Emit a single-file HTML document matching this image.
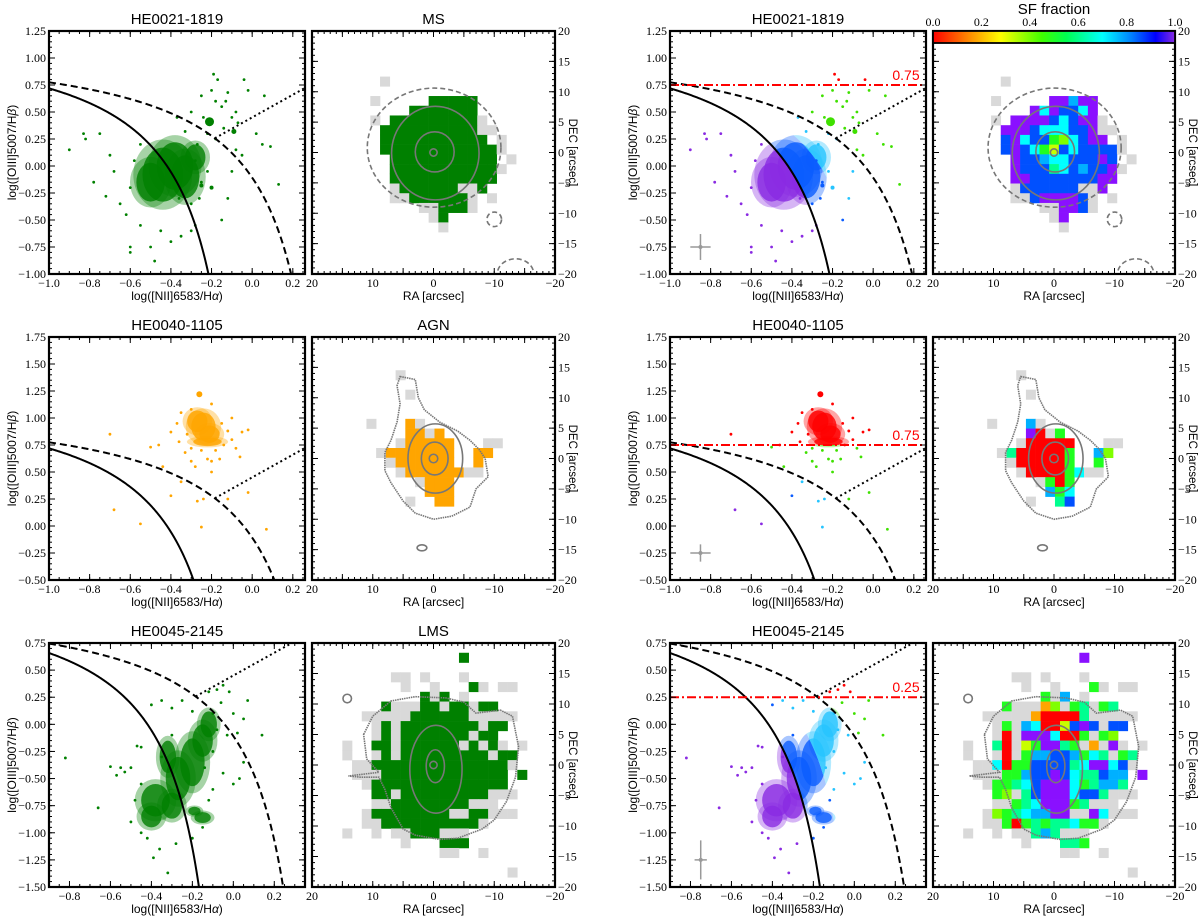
<!DOCTYPE html>
<html><head><meta charset="utf-8"><title>BPT diagrams and SF fraction maps</title>
<style>
html,body{margin:0;padding:0;background:#fff;overflow:hidden;}
svg{display:block;}
.tk{font-family:"Liberation Serif",serif;font-size:12px;fill:#000;}
.ttl{font-family:"Liberation Sans",sans-serif;font-size:15px;fill:#000;}
.lbl{font-family:"Liberation Sans",sans-serif;font-size:12px;fill:#000;}
.dl{font-family:"Liberation Sans",sans-serif;font-size:11.5px;fill:#000;}
</style></head>
<body>
<svg id="fig" width="1200" height="916" viewBox="0 0 1200 916" xmlns="http://www.w3.org/2000/svg">
<defs>
<linearGradient id="sfgrad" x1="0" y1="0" x2="1" y2="0">
<stop offset="0" stop-color="#ff0000"/><stop offset="0.15" stop-color="#ff8c00"/><stop offset="0.28" stop-color="#ffff00"/><stop offset="0.45" stop-color="#40ff00"/><stop offset="0.55" stop-color="#00ff50"/><stop offset="0.7" stop-color="#00ffff"/><stop offset="0.82" stop-color="#0080ff"/><stop offset="0.92" stop-color="#0000ff"/><stop offset="1" stop-color="#8a2be2"/>
</linearGradient>
</defs>
</svg>
<script>
// ---------------- data ----------------
const galaxyNames = ["HE0021-1819", "HE0040-1105", "HE0045-2145"];
const mapClasses = ["MS", "AGN", "LMS"];
const classColors = ["#008000", "#ffa500", "#008000"];
const sfThresholds = [0.75, 0.75, 0.25];
const bptXLim = [[-1, 0.26], [-1, 0.26], [-0.9, 0.35]];
const bptYLim = [[-1, 1.25], [-0.5, 1.75], [-1.5, 0.75]];
const bptXTicks = [[-1, -0.8, -0.6, -0.4, -0.2, 0, 0.2], [-1, -0.8, -0.6, -0.4, -0.2, 0, 0.2], [-0.8, -0.6, -0.4, -0.2, 0, 0.2]];
const bptYTicks = [[-1, -0.75, -0.5, -0.25, 0, 0.25, 0.5, 0.75, 1, 1.25], [-0.5, -0.25, 0, 0.25, 0.5, 0.75, 1, 1.25, 1.5, 1.75], [-1.5, -1.25, -1, -0.75, -0.5, -0.25, 0, 0.25, 0.5, 0.75]];
const mapXTicks = [20, 10, 0, -10, -20];
const mapYTicks = [20, 15, 10, 5, 0, -5, -10, -15, -20];
const cbarTicks = [0, 0.2, 0.4, 0.6, 0.8, 1.0];

const pointsA = [[-0.9,0.15],[-0.83,0.3],[-0.82,0.25],[-0.78,-0.15],[-0.75,0.3],[-0.72,-0.28],[-0.7,0.1],[-0.68,-0.05],[-0.65,-0.35],[-0.62,-0.45],[-0.6,-0.75],[-0.6,-0.8],[-0.55,-0.55],[-0.5,-0.75],[-0.48,-0.88],[-0.45,-0.6],[-0.4,-0.7],[-0.35,-0.65],[-0.3,-0.6],[-0.28,-0.55],[-0.25,-0.15],[-0.18,0.6],[-0.19,0.85],[-0.17,0.8],[-0.15,0.55],[-0.12,0.68],[-0.1,0.45],[-0.08,0.5],[-0.07,0.4],[-0.04,0.8],[-0.02,0.7],[0.02,0.3],[0.05,0.2],[0.06,0.65],[0.09,0.18],[0.13,-0.17],[-0.1,-0.05],[-0.05,0.1],[-0.12,-0.3],[-0.15,-0.5],[-0.33,0.32],[-0.37,0.45],[-0.3,0.5],[-0.25,0.65],[-0.36,-0.3],[-0.27,0.2],[-0.22,0.3],[-0.14,0.35],[-0.08,0.15],[-0.2,0.7],[-0.13,0.6],[-0.24,0.45],[-0.18,0.25],[-0.28,0.05],[-0.22,-0.05],[-0.58,0.05],[-0.6,-0.2],[-0.55,0.2],[-0.3,-0.35],[-0.26,-0.3]];
const bigA = [[-0.21,0.41,4.5],[-0.09,0.32,2.5],[-0.2,-0.2,2],[-0.25,-0.18,2]];
const blobsA = [[-0.44,-0.08,0.1,0.25],[-0.38,0.0,0.09,0.22],[-0.5,-0.15,0.07,0.18],[-0.33,-0.1,0.07,0.2],[-0.28,0.08,0.05,0.12]];

const pointsB = [[-0.7,0.85],[-0.68,0.15],[-0.55,0.02],[-0.5,0.73],[-0.46,0.75],[-0.44,0.55],[-0.4,0.87],[-0.4,0.28],[-0.35,0.41],[-0.27,0.23],[-0.25,-0.01],[-0.24,0.25],[-0.2,0.5],[-0.12,0.25],[-0.06,0.64],[-0.02,0.31],[0.07,-0.03],[-0.02,0.89],[-0.05,0.87],[-0.1,1.0],[-0.15,0.95],[-0.2,1.13],[-0.3,1.08],[-0.35,1.05],[-0.37,0.95],[-0.36,0.78],[-0.33,0.68],[-0.3,0.6],[-0.22,0.62],[-0.18,0.7],[-0.14,0.75],[-0.1,0.8],[-0.28,0.55],[-0.25,0.7],[-0.16,0.62],[-0.32,0.85],[-0.12,0.88],[-0.08,0.72],[-0.3,0.72],[-0.2,0.6]];
const bigB = [[-0.26,1.22,3]];
const blobsB = [[-0.24,0.92,0.06,0.13],[-0.27,0.97,0.05,0.1],[-0.21,0.85,0.05,0.08],[-0.22,0.78,0.07,0.04]];

const pointsC = [[-0.82,-0.31],[-0.66,-0.77],[-0.6,-0.39],[-0.57,-0.47],[-0.55,-0.4],[-0.53,-0.44],[-0.5,-0.4],[-0.47,-0.2],[-0.45,-0.21],[-0.4,0.18],[-0.35,0.22],[-0.3,0.15],[-0.25,0.22],[-0.2,0.12],[-0.12,0.3],[-0.08,0.32],[-0.05,0.36],[-0.02,0.3],[0.02,-0.08],[0.05,0.05],[0.07,0.22],[0.14,-0.1],[0.05,-0.35],[0.03,-0.5],[0,-0.55],[-0.05,-0.45],[-0.1,-0.6],[-0.32,-1.37],[-0.39,-1.23],[-0.45,-1.0],[-0.5,-0.9],[-0.36,-1.15],[-0.28,-1.1],[-0.2,-1.05],[-0.15,-0.95],[-0.12,-0.7],[-0.1,-0.25],[-0.03,-0.1],[0,0.1],[-0.14,-0.4],[-0.06,0.2],[-0.1,0.1],[-0.3,-0.1],[-0.35,-0.3],[-0.45,-0.55],[-0.48,-0.7],[-0.42,-1.05],[-0.08,-0.05]];
const bigC = [];
const blobsC = [[-0.38,-0.7,0.07,0.15],[-0.4,-0.85,0.05,0.1],[-0.27,-0.5,0.06,0.2],[-0.2,-0.35,0.06,0.22],[-0.15,-0.15,0.05,0.15],[-0.12,0.0,0.04,0.12],[-0.15,-0.86,0.04,0.05],[-0.19,-0.8,0.03,0.04],[-0.3,-0.75,0.05,0.12],[-0.32,-0.3,0.04,0.15]];

// error bars: x, y, dx, dy
const errBars = [[-0.85,-0.75,0.05,0.12],[-0.85,-0.25,0.05,0.08],[-0.75,-1.25,0.03,0.18]];

// spaxel grids (r o y l g t c a b p = SF fraction colour class, x = grey)
const gridA = [
".........................",
".........................",
".........................",
".........................",
".......x.................",
".........................",
"......x.....ppapp........",
"..........pcpbbcp........",
"......x.ppppbcbppx.......",
".......pppbcccbbpxx......",
".......bpcbbglcbpp.x.....",
".......bpbcgybcbbbbx.....",
"........pbbaccbbbpb.x....",
"........pbbbtcbabbpx.....",
"........ppbbbbbbbpp......",
"........xbbbbbbxxp.......",
"........xxbppppbx.x......",
"...........xxppbx........",
"............xp...........",
".............x..........."];
const gridB = [
".........................",
".........................",
".........................",
".........x...............",
".........................",
"..........x..............",
".........................",
".........................",
"......x...ax.............",
"..........prxg...........",
".........xrrrrr...xx.....",
".......xtrrrrrg..al......",
"........xrrrrrg..g.......",
".........xrrrrgcxx.......",
"...........xgrg..........",
"............agc..........",
"..........x..tb.........."];
const gridC = [
".........................",
"...............p.........",
".........................",
"........xx.x...x.........",
".........x..x...gx.xx....",
"...........gxa.x.........",
".......gxxxolxgtxgt......",
".....xxxxxorrrrtxxxxx....",
"......xgxacrrybpbxbb.....",
"......xrxpppcrrgxgl......",
"...x..trxygpptgxoxpx.x...",
"...x..xrxgaabbagctxgt....",
"....xxcrggbbbbtcppcbx....",
"....xxxggabbpbcttbaa.p...",
".....xggtcbpppcgtaat.....",
"......glxtbpppcbbtxxx....",
"......xxgtcpppgtxxx......",
".....xlgtcaappxxpcxxx....",
".....xxgrgtgttcggx.......",
"...x..x.xxtatxxx.........",
".........x...ttg.........",
".............xx..x.......",
".........................",
"....................x...."];

// contours (RA, DEC in arcsec)
const ellipsesA = [[-0.1,0.8,11,9.8,1],[-0.3,-0.1,7.2,7.7,0],[-0.2,0.1,3.2,3.3,0],[0,0,0.6,0.6,0],[-13.5,-20,3,2.5,1],[-10,-11,1.2,1.2,1]];
const outlineA = [];
const ellipsesB = [[-0.3,0,4.5,5.7,0],[-0.2,0,2.2,2.7,0],[0,0,0.7,0.7,0],[1.9,-14.7,0.8,0.5,0]];
const outlineB = [[5.5,13.5],[3,13],[2.5,10],[1.5,8],[-1,6],[-4,4.5],[-6,3],[-7.5,1.5],[-8.5,0],[-9,-3],[-7,-5],[-6,-8],[-3,-9.5],[0,-10],[3,-9],[5,-7],[7,-4],[8,-2],[8,1],[7,3],[6,6],[5.5,9],[6,12]];
const ellipsesC = [[-0.4,-0.7,4.3,7.2,0],[-0.3,-0.2,1.5,2.7,0],[0,0,0.6,0.6,0],[14.2,10.9,0.7,0.7,0]];
const outlineC = [[11.5,5],[10,8],[7,10.5],[3,11.2],[-2,11],[-5,10.3],[-7,8.5],[-11,9],[-13,8],[-14,3],[-13.5,-2],[-12,-6],[-10,-9],[-8,-10.5],[-4,-12],[-1,-12.2],[3,-11.5],[5,-10.5],[7,-7],[8,-4],[9,-2],[12,-2],[14,-1.8],[9,-1.2],[11,1]];

const pointsAll = [pointsA, pointsB, pointsC];
const bigAll = [bigA, bigB, bigC];
const blobsAll = [blobsA, blobsB, blobsC];
const gridsAll = [gridA, gridB, gridC];
const ellipsesAll = [ellipsesA, ellipsesB, ellipsesC];
const outlinesAll = [outlineA, outlineB, outlineC];

// ---------------- layout ----------------
const NS = "http://www.w3.org/2000/svg";
const svg = document.getElementById("fig");
const colBptL = [49, 305], colMapL = [312, 555], colBptR = [670, 926], colMapR = [933, 1175];
const rowY = [[31, 274], [337, 580], [643, 887]];
const gridOff = [[0, 0.69], [-0.4, 0.42], [0.12, 0]];
const cellArc = 1.6;
const codeColor = {r:"#ff0000", o:"#ffa500", y:"#c8ff00", l:"#80ff00", g:"#20ff20", t:"#00ff90", c:"#00ffff", a:"#00b0ff", b:"#0050ff", p:"#8a10ff"};
const regionColor = {purple:"#8a2be2", blue:"#0a5cff", cyan:"#25c4ff", green:"#3fe000", red:"#ff0000"};

function mk(tag, attrs, parent) {
  const e = document.createElementNS(NS, tag);
  for (const k in attrs) e.setAttribute(k, attrs[k]);
  (parent || svg).appendChild(e);
  return e;
}
function lin(v, d0, d1, p0, p1) { return p0 + (v - d0) / (d1 - d0) * (p1 - p0); }
function fmt(v, d) { const s = Math.abs(v).toFixed(d); return (v < -1e-9 ? "\u2212" : "") + s; }
let clipId = 0;
function clipRect(x0, y0, x1, y1) {
  const id = "c" + (clipId++);
  const cp = mk("clipPath", {id: id}, svg.querySelector("defs"));
  mk("rect", {x: x0, y: y0, width: x1 - x0, height: y1 - y0}, cp);
  return "url(#" + id + ")";
}
function txt(parent, x, y, s, cls, anchor) {
  const t = mk("text", {x: x, y: y, class: cls, "text-anchor": anchor || "middle"}, parent);
  t.textContent = s;
  return t;
}
function minorTicks(g, lo, hi, step, fn) {
  const n0 = Math.ceil(lo / step - 1e-6), n1 = Math.floor(hi / step + 1e-6);
  for (let n = n0; n <= n1; n++) fn(n * step);
}

function kau(x) { return x < 0.05 ? 0.61 / (x - 0.05) + 1.3 : -99; }
function kew(x) { return x < 0.47 ? 0.61 / (x - 0.47) + 1.19 : -99; }
function midc(x) { return x < 0.05 ? kew(x) - 0.35 * (kew(x) - kau(x)) : kew(x) - 0.3; }
function classify(x, y, thr) {
  if (y >= thr) return regionColor.red;
  if (y >= kew(x)) return regionColor.green;
  if (y >= midc(x)) return regionColor.cyan;
  if (y >= kau(x)) return regionColor.blue;
  return regionColor.purple;
}

function drawBlobs(parent, r, X, Y, sxu, syu, colr) {
  for (const b of blobsAll[r]) {
    const h = mk("ellipse", {cx: X(b[0]), cy: Y(b[1]), rx: b[2] * sxu * 1.45, ry: b[3] * syu * 1.3, fill: colr, opacity: 0.35}, parent);
    
    
  }
  for (const b of blobsAll[r]) {
    const e = mk("ellipse", {cx: X(b[0]), cy: Y(b[1]), rx: b[2] * sxu, ry: b[3] * syu, fill: colr, opacity: 0.8}, parent);
    
    
  }
}

function drawBPT(r, col, colored) {
  const [x0, x1] = col, [y0, y1] = rowY[r];
  const [xa, xb] = bptXLim[r], [ya, yb] = bptYLim[r];
  const X = v => lin(v, xa, xb, x0, x1), Y = v => lin(v, ya, yb, y1, y0);
  const sxu = (x1 - x0) / (xb - xa), syu = (y1 - y0) / (yb - ya);
  const g = mk("g", {});
  
  
  const pg = mk("g", {"clip-path": clipRect(x0, y0, x1, y1)}, g);
  const thr = sfThresholds[r];

  if (!colored) {
    drawBlobs(pg, r, X, Y, sxu, syu, classColors[r]);
  } else {
    const bands = [
      [regionColor.purple, x => ya - 5, x => Math.min(kau(x), thr)],
      [regionColor.blue, x => kau(x), x => Math.min(midc(x), thr)],
      [regionColor.cyan, x => midc(x), x => Math.min(kew(x), thr)],
      [regionColor.green, x => kew(x), x => thr],
      [regionColor.red, x => thr, x => yb + 5]
    ];
    for (const [colr, lo, hi] of bands) {
      const id = "c" + (clipId++);
      const cp = mk("clipPath", {id: id}, svg.querySelector("defs"));
      const top = [], bot = [];
      for (let i = 0; i <= 200; i++) {
        const xv = xa + (xb - xa) * i / 200;
        let l = Math.max(lo(xv), ya - 5), h = Math.min(Math.max(hi(xv), ya - 5), yb + 5);
        if (h < l) h = l;
        bot.push(X(xv) + "," + Y(l)); top.push(X(xv) + "," + Y(h));
      }
      mk("polygon", {points: bot.concat(top.reverse()).join(" ")}, cp);
      const bg = mk("g", {"clip-path": "url(#" + id + ")"}, pg);
      drawBlobs(bg, r, X, Y, sxu, syu, colr);
    }
  }
  for (const p of pointsAll[r]) {
    const c = mk("circle", {cx: X(p[0]), cy: Y(p[1]), r: 1.4, fill: colored ? classify(p[0], p[1], thr) : classColors[r]}, pg);
    
    
  }
  for (const p of bigAll[r]) {
    const c = mk("circle", {cx: X(p[0]), cy: Y(p[1]), r: p[2], fill: colored ? classify(p[0], p[1], thr) : classColors[r]}, pg);
    
    
  }
  const kp = [], kwp = [];
  for (let i = 0; i <= 300; i++) {
    const xv = xa + (0.04 - xa) * i / 300;
    kp.push(X(xv) + "," + Y(Math.max(kau(xv), ya - 3)));
  }
  for (let i = 0; i <= 300; i++) {
    const xv = xa + (Math.min(0.46, xb) - xa) * i / 300;
    kwp.push(X(xv) + "," + Y(Math.max(kew(xv), ya - 3)));
  }
  let e = mk("polyline", {points: kp.join(" "), fill: "none", stroke: "#000", "stroke-width": 2}, pg);
  
  
  e = mk("polyline", {points: kwp.join(" "), fill: "none", stroke: "#000", "stroke-width": 2, "stroke-dasharray": "7,4"}, pg);
  
  
  let lo = -0.6, hi = 0.4;
  for (let i = 0; i < 60; i++) { const m = (lo + hi) / 2; if (1.05 * m + 0.45 > kew(m)) hi = m; else lo = m; }
  e = mk("line", {x1: X(hi), y1: Y(1.05 * hi + 0.45), x2: X(xb), y2: Y(1.05 * xb + 0.45), stroke: "#000", "stroke-width": 2, "stroke-dasharray": "2,3"}, pg);
  
  
  if (colored) {
    e = mk("line", {x1: x0, y1: Y(thr), x2: x1, y2: Y(thr), stroke: "#ff0000", "stroke-width": 2, "stroke-dasharray": "9,3,2,3"}, pg);
    
    
    const t = txt(g, x1 - 20, Y(thr) - 5, fmt(thr, 2), "lbl", "middle");
    t.style.fill = "#ff0000"; t.style.fontSize = "14px";
    
    
    const eb = errBars[r];
    const eg = mk("g", {stroke: "#999", "stroke-width": 1.5}, pg);
    
    
    mk("line", {x1: X(eb[0] - eb[2]), y1: Y(eb[1]), x2: X(eb[0] + eb[2]), y2: Y(eb[1])}, eg);
    mk("line", {x1: X(eb[0]), y1: Y(eb[1] - eb[3]), x2: X(eb[0]), y2: Y(eb[1] + eb[3])}, eg);
    mk("circle", {cx: X(eb[0]), cy: Y(eb[1]), r: 2, fill: "#999", stroke: "none"}, eg);
  }
  const tg = mk("g", {stroke: "#000", "stroke-width": 1}, g);
  
  
  minorTicks(tg, xa, xb, 0.05, v => { const px = X(v); mk("line", {x1: px, y1: y1, x2: px, y2: y1 - 3}, tg); mk("line", {x1: px, y1: y0, x2: px, y2: y0 + 3}, tg); });
  minorTicks(tg, ya, yb, 0.05, v => { const py = Y(v); mk("line", {x1: x0, y1: py, x2: x0 + 3, y2: py}, tg); mk("line", {x1: x1, y1: py, x2: x1 - 3, y2: py}, tg); });
  for (const v of bptXTicks[r]) {
    const px = X(v);
    mk("line", {x1: px, y1: y1, x2: px, y2: y1 - 6}, tg); mk("line", {x1: px, y1: y0, x2: px, y2: y0 + 6}, tg);
    const t = txt(g, px, y1 + 13, fmt(v, 1), "tk");
    
    
  }
  for (const v of bptYTicks[r]) {
    const py = Y(v);
    mk("line", {x1: x0, y1: py, x2: x0 + 6, y2: py}, tg); mk("line", {x1: x1, y1: py, x2: x1 - 6, y2: py}, tg);
    const t = txt(g, x0 - 3, py + 4, fmt(v, 2), "tk", "end");
    
    
  }
  e = mk("rect", {x: x0, y: y0, width: x1 - x0, height: y1 - y0, fill: "none", stroke: "#000", "stroke-width": 2.2}, g);
  
  
  let t = txt(g, (x0 + x1) / 2, y0 - 7, galaxyNames[r], "ttl");
  
  
  t = txt(g, (x0 + x1) / 2, y1 + 26, "log([NII]6583/H", "lbl");
  const ts = mk("tspan", {"font-style": "italic"}, t); ts.textContent = "\u03b1";
  const ts2 = mk("tspan", {}, t); ts2.textContent = ")";
  
  
  const yl = x0 - 33, ym = (y0 + y1) / 2;
  t = txt(g, yl, ym, "log([OIII]5007/H", "lbl");
  t.setAttribute("transform", "rotate(-90 " + yl + " " + ym + ")");
  const tb = mk("tspan", {"font-style": "italic"}, t); tb.textContent = "\u03b2";
  const tb2 = mk("tspan", {}, t); tb2.textContent = ")";
  
  
}

function drawMap(r, col, colored) {
  const [x0, x1] = col, [y0, y1] = rowY[r];
  const X = v => lin(v, 20, -20, x0, x1), Y = v => lin(v, 20, -20, y0, y1);
  const g = mk("g", {});
  
  
  const pg = mk("g", {"clip-path": clipRect(x0, y0, x1, y1)}, g);
  const cw = (x1 - x0) * cellArc / 40, ch = (y1 - y0) * cellArc / 40;
  const [ox, oy] = gridOff[r];
  gridsAll[r].forEach((row, j) => {
    for (let k = 0; k < row.length; k++) {
      const c = row[k];
      if (c === ".") continue;
      const fill = c === "x" ? "#d9d9d9" : (colored ? codeColor[c] : classColors[r]);
      const e = mk("rect", {x: x0 + (k + ox) * cw, y: y0 + (j + oy) * ch, width: cw + 0.3, height: ch + 0.3, fill: fill}, pg);
      
      
    }
  });
  const cg = mk("g", {fill: "none", stroke: "#777", "stroke-width": 1.6}, pg);
  
  
  if (outlinesAll[r].length) {
    const pts = outlinesAll[r].map(p => X(p[0]) + "," + Y(p[1])).join(" ");
    const e = mk("polygon", {points: pts, "stroke-dasharray": "1.5,0.8"}, cg);
    
    
  }
  for (const el of ellipsesAll[r]) {
    const e = mk("ellipse", {cx: X(el[0]), cy: Y(el[1]), rx: el[2] * (x1 - x0) / 40, ry: el[3] * (y1 - y0) / 40}, cg);
    if (el[4]) e.setAttribute("stroke-dasharray", "5,3");
    
    
  }
  const tg = mk("g", {stroke: "#000", "stroke-width": 1}, g);
  
  
  minorTicks(tg, -20, 20, 1, v => {
    mk("line", {x1: X(v), y1: y1, x2: X(v), y2: y1 - 3}, tg); mk("line", {x1: X(v), y1: y0, x2: X(v), y2: y0 + 3}, tg);
    mk("line", {x1: x0, y1: Y(v), x2: x0 + 3, y2: Y(v)}, tg); mk("line", {x1: x1, y1: Y(v), x2: x1 - 3, y2: Y(v)}, tg);
  });
  minorTicks(tg, -20, 20, 5, v => {
    mk("line", {x1: X(v), y1: y1, x2: X(v), y2: y1 - 6}, tg); mk("line", {x1: X(v), y1: y0, x2: X(v), y2: y0 + 6}, tg);
    mk("line", {x1: x0, y1: Y(v), x2: x0 + 6, y2: Y(v)}, tg); mk("line", {x1: x1, y1: Y(v), x2: x1 - 6, y2: Y(v)}, tg);
  });
  for (const v of mapXTicks) {
    const t = txt(g, X(v), y1 + 13, fmt(v, 0), "tk");
    
    
  }
  for (const v of mapYTicks) {
    const t = txt(g, x1 + 3, Y(v) + 4, fmt(v, 0), "tk", "start");
    
    
  }
  let e = mk("rect", {x: x0, y: y0, width: x1 - x0, height: y1 - y0, fill: "none", stroke: "#000", "stroke-width": 2.2}, g);
  
  
  let t = txt(g, (x0 + x1) / 2, y1 + 26, "RA [arcsec]", "lbl");
  
  
  const lx = x1 + 14, ly = (y0 + y1) / 2;
  t = txt(g, lx, ly, "DEC [arcsec]", "dl");
  t.setAttribute("transform", "rotate(90 " + lx + " " + ly + ")");
  
  
  if (!colored) {
    t = txt(g, (x0 + x1) / 2, y0 - 7, mapClasses[r], "ttl");
    
    
  }
}

for (let r = 0; r < 3; r++) {
  drawBPT(r, colBptL, false);
  drawMap(r, colMapL, false);
  drawBPT(r, colBptR, true);
  drawMap(r, colMapR, true);
}

const cb = mk("g", {});


const cbx0 = colMapR[0], cbx1 = colMapR[1], cby0 = 31, cby1 = 43;
let cbr = mk("rect", {x: cbx0, y: cby0, width: cbx1 - cbx0, height: cby1 - cby0, fill: "url(#sfgrad)", stroke: "#000", "stroke-width": 1.8}, cb);


for (const v of cbarTicks) {
  const px = lin(v, 0, 1, cbx0, cbx1);
  const t = txt(cb, px, cby0 - 5, v.toFixed(1), "tk");
  
  
}
const cbt = txt(cb, (cbx0 + cbx1) / 2, 14, "SF fraction", "ttl");


</script>
</body></html>
